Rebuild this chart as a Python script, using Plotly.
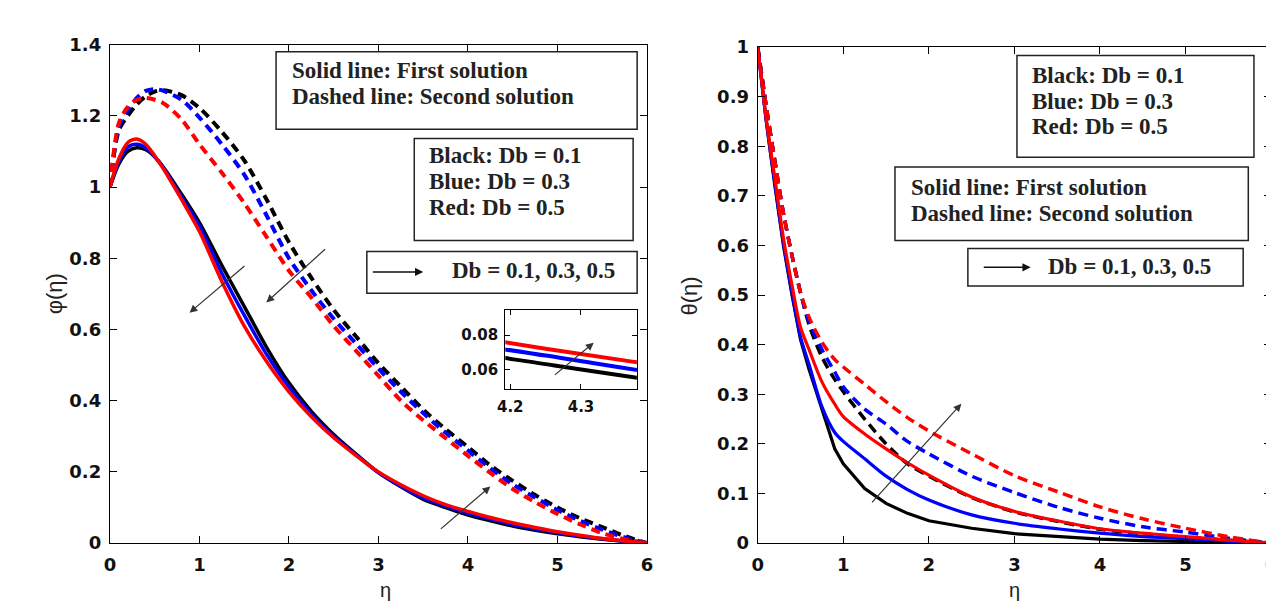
import plotly.graph_objects as go

W, H = 1274, 604

# ---------------- data: left panel  phi(eta) ----------------
eta_L = [0, 0.1, 0.2, 0.3, 0.4, 0.5, 0.6, 0.8, 1.0, 1.25, 1.5, 1.75, 2.0, 2.25, 2.5,
         2.75, 3.0, 3.25, 3.5, 3.75, 4.0, 4.25, 4.5, 4.75, 5.0, 5.25, 5.5, 5.75, 6.0]

phi_first_db01 = [1.0, 1.065, 1.1, 1.11, 1.105, 1.085, 1.055, 0.98, 0.9, 0.78, 0.665, 0.55, 0.45, 0.37, 0.305,
                  0.25, 0.198, 0.158, 0.123, 0.1, 0.079, 0.063, 0.048, 0.036, 0.026, 0.018, 0.011, 0.005, 0.0]
phi_first_db03 = [1.0, 1.072, 1.112, 1.12, 1.11, 1.085, 1.053, 0.972, 0.89, 0.758, 0.64, 0.53, 0.438, 0.362, 0.3,
                  0.248, 0.198, 0.16, 0.127, 0.104, 0.084, 0.068, 0.052, 0.04, 0.029, 0.02, 0.012, 0.005, 0.0]
phi_first_db05 = [1.0, 1.08, 1.125, 1.135, 1.12, 1.088, 1.05, 0.965, 0.875, 0.735, 0.61, 0.51, 0.425, 0.355, 0.296,
                  0.246, 0.2, 0.164, 0.133, 0.108, 0.089, 0.072, 0.057, 0.044, 0.032, 0.022, 0.013, 0.006, 0.0]

phi_second_db01 = [1.0, 1.16, 1.2, 1.232, 1.255, 1.268, 1.272, 1.258, 1.222, 1.155, 1.075, 0.965, 0.845, 0.745, 0.655,
                   0.58, 0.505, 0.44, 0.375, 0.32, 0.27, 0.218, 0.175, 0.135, 0.1, 0.07, 0.045, 0.02, 0.0]
phi_second_db03 = [1.0, 1.17, 1.215, 1.25, 1.27, 1.275, 1.27, 1.245, 1.195, 1.12, 1.035, 0.92, 0.80, 0.71, 0.63,
                   0.56, 0.49, 0.425, 0.365, 0.31, 0.26, 0.21, 0.165, 0.128, 0.093, 0.063, 0.038, 0.016, 0.0]
phi_second_db05 = [1.0, 1.18, 1.225, 1.245, 1.25, 1.245, 1.235, 1.19, 1.12, 1.04, 0.955, 0.86, 0.765, 0.69, 0.61,
                   0.54, 0.47, 0.40, 0.345, 0.295, 0.245, 0.197, 0.152, 0.115, 0.082, 0.053, 0.028, 0.011, 0.0]

# ---------------- data: right panel theta(eta) ----------------
eta_R = [0, 0.1, 0.2, 0.3, 0.4, 0.5, 0.6, 0.75, 0.9, 1.0, 1.25, 1.5, 1.75, 2.0, 2.5, 3.0, 3.5, 4.0, 4.5, 5.0, 5.5, 6.0]

theta_first_db01 = [1.0, 0.85, 0.72, 0.6, 0.5, 0.41, 0.35, 0.27, 0.19, 0.16, 0.11, 0.08, 0.06, 0.045, 0.03,
                    0.019, 0.013, 0.008, 0.005, 0.003, 0.001, 0.0]
theta_first_db03 = [1.0, 0.85, 0.725, 0.605, 0.505, 0.415, 0.36, 0.275, 0.223, 0.205, 0.17, 0.135, 0.108, 0.087, 0.057,
                    0.04, 0.029, 0.02, 0.013, 0.009, 0.004, 0.0]
theta_first_db05 = [1.0, 0.855, 0.735, 0.615, 0.52, 0.435, 0.39, 0.325, 0.28, 0.255, 0.22, 0.19, 0.162, 0.137, 0.093,
                    0.064, 0.045, 0.029, 0.02, 0.013, 0.006, 0.0]

theta_second_db01 = [1.0, 0.88, 0.77, 0.665, 0.58, 0.505, 0.44, 0.375, 0.33, 0.305, 0.25, 0.2, 0.16, 0.135, 0.092,
                     0.063, 0.044, 0.028, 0.019, 0.012, 0.006, 0.0]
theta_second_db03 = [1.0, 0.88, 0.77, 0.665, 0.58, 0.505, 0.445, 0.39, 0.345, 0.315, 0.27, 0.24, 0.205, 0.18, 0.135,
                     0.102, 0.073, 0.05, 0.033, 0.022, 0.01, 0.0]
theta_second_db05 = [1.0, 0.88, 0.77, 0.665, 0.58, 0.505, 0.455, 0.405, 0.37, 0.355, 0.32, 0.285, 0.253, 0.226, 0.18,
                     0.136, 0.104, 0.073, 0.049, 0.03, 0.013, 0.0]

# ticks
xticks_main = [0, 1, 2, 3, 4, 5, 6]
yticks_L = [0, 0.2, 0.4, 0.6, 0.8, 1.0, 1.2, 1.4]
yticklabels_L = ["0", "0.2", "0.4", "0.6", "0.8", "1", "1.2", "1.4"]
yticks_R = [0, 0.1, 0.2, 0.3, 0.4, 0.5, 0.6, 0.7, 0.8, 0.9, 1.0]
yticklabels_R = ["0", "0.1", "0.2", "0.3", "0.4", "0.5", "0.6", "0.7", "0.8", "0.9", "1"]
xticks_inset = [4.2, 4.3]
yticks_inset = [0.06, 0.08]
yticklabels_inset = ["0.06", "0.08"]

# ---------------- layout geometry (pixels) ----------------
L_X0, L_X1, L_Y0, L_Y1 = 95, 638, 543, 26.5      # left plot box (y0 bottom)
R_X0, R_X1, R_Y0, R_Y1 = 750, 1269, 543, 29
L_XR, L_YR = [0, 6], [0, 1.4]
INSET_ETA = (4.417, 5.887)     # position of the inset frame in left-plot data units
INSET_PHI = (0.432, 0.654)
INSET_XR = [4.193, 4.379]
INSET_YR = [0.0483, 0.0945]

def px(x):
    return x / W

def py(y):
    return 1 - y / H

def lx(e):  # left data -> pixel
    return L_X0 + (e - L_XR[0]) / (L_XR[1] - L_XR[0]) * (L_X1 - L_X0)

def ly(v):
    return L_Y0 - (v - L_YR[0]) / (L_YR[1] - L_YR[0]) * (L_Y0 - L_Y1)

BLACK, BLUE, RED = "#000000", "#0000ff", "#ff0000"
SERIF = "Liberation Serif"
TICKF = "DejaVu Sans"
SANS = "Liberation Sans"

fig = go.Figure()

def add_line(x, y, col, width, dash, xa, ya, shape="spline"):
    fig.add_trace(go.Scatter(
        x=x, y=y, mode="lines", xaxis=xa, yaxis=ya, showlegend=False, hoverinfo="skip",
        line=dict(color=col, width=width, dash=dash, shape=shape, smoothing=0.8 if shape == "spline" else None)))

# left panel
for vals, col in [(phi_second_db01, BLACK), (phi_second_db03, BLUE), (phi_second_db05, RED)]:
    add_line(eta_L, vals, col, 4, "9px,6px", "x", "y")
for vals, col in [(phi_first_db01, BLACK), (phi_first_db03, BLUE), (phi_first_db05, RED)]:
    add_line(eta_L, vals, col, 3.5, "solid", "x", "y")
# inset
for vals, col in [(phi_first_db01, BLACK), (phi_first_db03, BLUE), (phi_first_db05, RED)]:
    add_line(eta_L, vals, col, 4, "solid", "x3", "y3")
# right panel
for vals, col in [(theta_second_db01, BLACK), (theta_second_db03, BLUE), (theta_second_db05, RED)]:
    add_line(eta_R, vals, col, 3.5, "10px,6px", "x2", "y2")
for vals, col, shp in [(theta_first_db01, BLACK, "linear"), (theta_first_db03, BLUE, "spline"), (theta_first_db05, RED, "spline")]:
    add_line(eta_R, vals, col, 3.2, "solid", "x2", "y2", shape=shp)

tickfont_main = dict(family=TICKF, size=18, color="#111", weight="bold")
tickfont_inset = dict(family=TICKF, size=15, color="#111", weight="bold")
axis_common = dict(showline=True, linecolor="#000", linewidth=1.3, mirror="ticks", ticks="inside",
                   ticklen=7, tickwidth=1.3, tickcolor="#000", showgrid=False, zeroline=False,
                   tickfont=tickfont_main)

inset_x0, inset_x1 = lx(INSET_ETA[0]), lx(INSET_ETA[1])
inset_y0, inset_y1 = ly(INSET_PHI[0]), ly(INSET_PHI[1])

fig.update_layout(
    width=W, height=H, margin=dict(l=0, r=0, t=0, b=0),
    paper_bgcolor="white", plot_bgcolor="white",
    xaxis=dict(axis_common, domain=[px(L_X0), px(L_X1)], range=L_XR, tickvals=xticks_main, anchor="y",
               ticklabelstandoff=5),
    yaxis=dict(axis_common, domain=[py(L_Y0), py(L_Y1)], range=L_YR, tickvals=yticks_L,
               ticktext=yticklabels_L, anchor="x", ticklabelstandoff=4),
    xaxis2=dict(axis_common, domain=[px(R_X0), px(R_X1)], range=[0, 6], tickvals=xticks_main, anchor="y2",
                ticklabelstandoff=5),
    yaxis2=dict(axis_common, domain=[py(R_Y0), py(R_Y1)], range=[0, 1], tickvals=yticks_R,
                ticktext=yticklabels_R, anchor="x2", ticklabelstandoff=4),
    xaxis3=dict(axis_common, domain=[px(inset_x0), px(inset_x1)], range=INSET_XR, tickvals=xticks_inset,
                anchor="y3", ticklen=5, tickfont=tickfont_inset, ticklabelstandoff=4),
    yaxis3=dict(axis_common, domain=[py(inset_y0), py(inset_y1)], range=INSET_YR, tickvals=yticks_inset,
                ticktext=yticklabels_inset, anchor="x3", ticklen=5, tickfont=tickfont_inset, ticklabelstandoff=3),
)

shapes = []
annots = []

def box(x0, x1, y0, y1, xr, yr):
    shapes.append(dict(type="rect", xref=xr, yref=yr, x0=x0, x1=x1, y0=y0, y1=y1,
                       line=dict(color="#222", width=1.5), fillcolor="rgba(0,0,0,0)", layer="above"))

def text(t, x, y, xr, yr, size=23):
    annots.append(dict(text=t, x=x, y=y, xref=xr, yref=yr, xanchor="left", yanchor="middle", showarrow=False,
                       borderpad=0, font=dict(family=SERIF, size=size, color="#222", weight="bold")))

def arrow(x_tail, y_tail, x_head, y_head, xr, yr, color="#333", width=1.2, size=1.3):
    annots.append(dict(text="", x=x_head, y=y_head, ax=x_tail, ay=y_tail, xref=xr, yref=yr, axref=xr, ayref=yr,
                       showarrow=True, arrowhead=2, arrowsize=size, arrowwidth=width, arrowcolor=color))

# ---- left panel boxes ----
box(1.856, 5.89, 1.162, 1.38, "x", "y")
text("Solid line: First solution", 2.02, 1.327, "x", "y")
text("Dashed line: Second solution", 2.02, 1.253, "x", "y")
box(3.40, 5.845, 0.85, 1.136, "x", "y")
text("Black: Db = 0.1", 3.55, 1.088, "x", "y")
text("Blue: Db = 0.3", 3.55, 1.015, "x", "y")
text("Red: Db = 0.5", 3.55, 0.942, "x", "y")
box(2.87, 5.89, 0.702, 0.819, "x", "y")
arrow(2.92, 0.7615, 3.50, 0.7615, "x", "y", color="#111", width=1.5, size=1.1)
text("Db = 0.1, 0.3, 0.5", 3.81, 0.765, "x", "y")
# trend arrows
arrow(1.52, 0.782, 0.889, 0.647, "x", "y")
arrow(2.42, 0.829, 1.747, 0.676, "x", "y")
arrow(3.68, 0.0365, 4.25, 0.159, "x", "y")
arrow(4.261, 0.056, 4.318, 0.0755, "x3", "y3")

# ---- right panel boxes ----
box(3.03, 5.80, 0.778, 0.983, "x2", "y2")
text("Black: Db = 0.1", 3.19, 0.943, "x2", "y2")
text("Blue: Db = 0.3", 3.19, 0.891, "x2", "y2")
text("Red: Db = 0.5", 3.19, 0.839, "x2", "y2")
box(1.604, 5.734, 0.610, 0.758, "x2", "y2")
text("Solid line: First solution", 1.777, 0.716, "x2", "y2")
text("Dashed line: Second solution", 1.777, 0.664, "x2", "y2")
box(2.456, 5.674, 0.518, 0.594, "x2", "y2")
arrow(2.624, 0.556, 3.19, 0.556, "x2", "y2", color="#111", width=1.5, size=1.1)
text("Db = 0.1, 0.3, 0.5", 3.38, 0.558, "x2", "y2")
arrow(1.32, 0.079, 2.38, 0.281, "x2", "y2")

# ---- axis titles ----
annots.append(dict(text="φ(η)", x=px(24), y=py(285), xref="paper", yref="paper", showarrow=False,
                   textangle=-90, font=dict(family=SANS, size=22, color="#222")))
annots.append(dict(text="η", x=px(367), y=0, xref="paper", yref="paper", yanchor="bottom", showarrow=False,
                   borderpad=0, font=dict(family=SANS, size=20, color="#222")))
annots.append(dict(text="θ(η)", x=px(680), y=py(287), xref="paper", yref="paper", showarrow=False,
                   textangle=-90, font=dict(family=SANS, size=22, color="#222")))
annots.append(dict(text="η", x=px(1016), y=0, xref="paper", yref="paper", yanchor="bottom", showarrow=False,
                   borderpad=0, font=dict(family=SANS, size=20, color="#222")))

fig.update_layout(shapes=shapes, annotations=annots)
fig.write_html("out.html")
